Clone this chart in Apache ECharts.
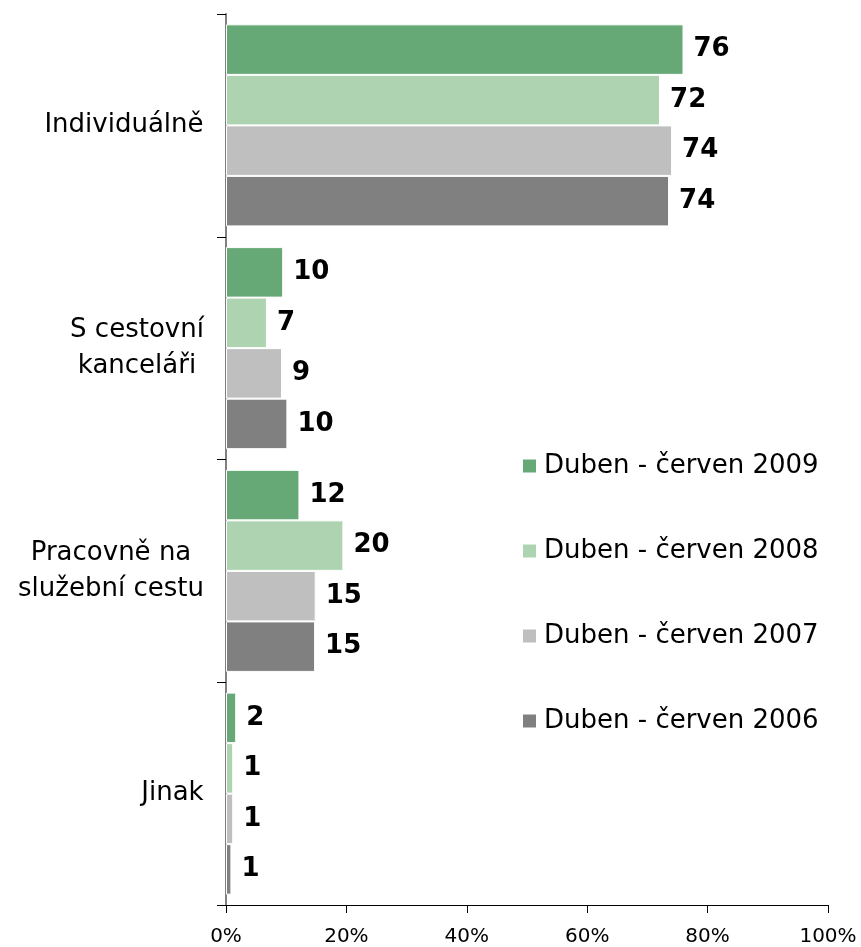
<!DOCTYPE html>
<html>
<head>
<meta charset="utf-8">
<script src="https://cdn.jsdelivr.net/npm/echarts@6/dist/echarts.min.js"></script>
<style>
html,body{margin:0;padding:0;background:#fff;}
#chart{width:861px;height:947px;}
</style>
</head>
<body>
<div id="chart"></div>
<script>
var categories = ['Individuálně', 'S cestovní\nkanceláři', 'Pracovně na\nslužební cestu', 'Jinak'];
var seriesNames = ['Duben - červen 2009', 'Duben - červen 2008', 'Duben - červen 2007', 'Duben - červen 2006'];
var values2009 = [76.0, 9.5, 12.2, 1.7];
var values2008 = [72.1, 6.8, 19.5, 1.2];
var values2007 = [74.1, 9.3, 14.9, 1.2];
var values2006 = [73.6, 10.2, 14.8, 0.9];
var xTicks = [0, 20, 40, 60, 80, 100];

var colors = ['#66a876', '#aed3b1', '#bfbfbf', '#808080'];
var FONT = '"DejaVu Sans", Verdana, sans-serif';

// build rich styles so multi-line category labels are centred line by line
var cv = document.createElement('canvas').getContext('2d');
cv.font = '26px "DejaVu Sans"';
var rich = {};
categories.forEach(function (c, i) {
  var w = 0;
  c.split('\n').forEach(function (l) { w = Math.max(w, cv.measureText(l).width); });
  rich['w' + i] = { width: Math.ceil(w), align: 'center', fontSize: 26, lineHeight: 36, color: '#000', fontFamily: FONT };
});

var allValues = [values2009, values2008, values2007, values2006];
var series = allValues.map(function (vals, i) {
  return {
    name: seriesNames[i],
    type: 'bar',
    data: vals,
    barGap: '0%',
    barCategoryGap: '9.3%',
    itemStyle: { color: colors[i], borderColor: '#ffffff', borderWidth: 1 },
    label: {
      show: true,
      position: 'right',
      distance: 10,
      color: '#000',
      fontWeight: 'bold',
      fontSize: 26,
      fontFamily: FONT,
      formatter: function (p) { return Math.round(p.value); }
    }
  };
});

var chart = echarts.init(document.getElementById('chart'));
chart.setOption({
  animation: false,
  backgroundColor: '#fff',
  color: colors,
  grid: { left: 226, right: 33, top: 14, bottom: 42, containLabel: false },
  legend: {
    data: seriesNames,
    orient: 'vertical',
    left: 521,
    top: 453,
    padding: 0,
    itemWidth: 15,
    itemHeight: 15,
    itemGap: 59,
    icon: 'rect',
    textStyle: { fontSize: 26, lineHeight: 26, color: '#000', fontFamily: FONT, padding: [0, 0, 0, 2] }
  },
  xAxis: {
    type: 'value',
    min: xTicks[0],
    max: xTicks[xTicks.length - 1],
    interval: xTicks[1] - xTicks[0],
    splitLine: { show: false },
    axisLine: { show: true, lineStyle: { color: '#000', width: 1 } },
    axisTick: { show: true, length: 8, lineStyle: { color: '#000' } },
    axisLabel: { formatter: '{value}%', fontSize: 20, color: '#000', fontFamily: FONT, margin: 22 }
  },
  yAxis: {
    type: 'category',
    data: categories,
    inverse: true,
    axisLine: { show: true, lineStyle: { color: '#808080', width: 2 } },
    axisTick: { show: true, length: 9, lineStyle: { color: '#000' } },
    axisLabel: {
      margin: 22,
      align: 'right',
      fontFamily: FONT,
      fontSize: 26,
      lineHeight: 36,
      color: '#000',
      rich: rich,
      formatter: function (v, idx) {
        return v.split('\n').map(function (l) { return '{w' + idx + '|' + l + '}'; }).join('\n');
      }
    }
  },
  series: series
});
</script>
</body>
</html>
